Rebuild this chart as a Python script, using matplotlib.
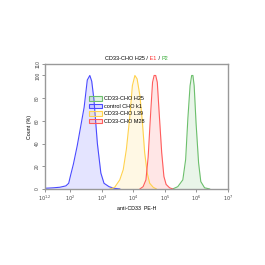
import numpy as np
import matplotlib
matplotlib.use("Agg")
import matplotlib.pyplot as plt
from matplotlib.patches import Patch
from matplotlib.ticker import FixedLocator, NullFormatter

# histogram outlines: log10(PE-H) vs count (%)
blue_x = [1.20, 1.46, 1.67, 1.86, 1.95, 2.01, 2.10, 2.22, 2.33, 2.44, 2.54, 2.62, 2.68, 2.75, 2.86, 2.97, 3.07, 3.23, 3.39, 3.57]
blue_y = [0.6, 1.0, 1.5, 2.7, 5.0, 12, 22, 38, 55, 72, 96, 100, 95, 79, 40, 14, 5.0, 2.0, 0.6, 0]
yel_x = [3.26, 3.41, 3.57, 3.68, 3.78, 3.89, 3.97, 4.05, 4.12, 4.21, 4.29, 4.36, 4.44, 4.52, 4.63, 4.73]
yel_y = [0, 1.5, 8, 17, 35, 64, 91, 100, 97, 82, 58, 32, 14, 5, 1.5, 0]
red_x = [4.21, 4.31, 4.40, 4.47, 4.55, 4.61, 4.66, 4.71, 4.76, 4.82, 4.90, 4.97, 5.04, 5.15, 5.25]
red_y = [0, 2, 8, 28, 67, 94, 100, 100, 94, 67, 32, 11, 4, 1, 0]
grn_x = [5.25, 5.41, 5.57, 5.66, 5.73, 5.80, 5.85, 5.89, 5.93, 5.99, 6.07, 6.14, 6.26, 6.42]
grn_y = [0, 2, 8, 26, 62, 91, 100, 100, 91, 58, 23, 6.5, 1, 0]

xtick_pos = [1.2, 2, 3, 4, 5, 6, 7]
xtick_lab = [r"$10^{1.2}$", r"$10^{2}$", r"$10^{3}$", r"$10^{4}$", r"$10^{5}$", r"$10^{6}$", r"$10^{7}$"]
yticks = [0, 20, 40, 60, 80, 100, 110]

series = [
    ("CD33-CHO H25", grn_x, grn_y, "#6cbf6c"),
    ("control CHO k1", blue_x, blue_y, "#4a4aff"),
    ("CD33-CHO L39", yel_x, yel_y, "#ffd24d"),
    ("CD33-CHO M28", red_x, red_y, "#ff5c5c"),
]

plt.rcParams['font.family'] = ['Liberation Sans', 'DejaVu Sans']
fig = plt.figure(figsize=(2.65, 2.65), dpi=100)
ax = fig.add_axes([0.17, 0.287, 0.69, 0.471])

handles = []
for name, xs, ys, c in series:
    x = 10 ** np.array(xs)
    ax.fill_between(x, ys, 0, color=c, alpha=0.15, lw=0)
    ax.plot(x, ys, color=c, lw=0.8)
    handles.append(Patch(facecolor=c + "33", edgecolor=c, lw=0.8, label=name))

ax.set_xscale("log")
ax.set_xlim(10 ** 1.2, 10 ** 7)
ax.set_ylim(0, 110)
ax.xaxis.set_major_locator(FixedLocator([10 ** p for p in xtick_pos]))
ax.set_xticklabels(xtick_lab, fontsize=3.5)
ax.xaxis.set_minor_formatter(NullFormatter())
ax.set_yticks(yticks)
ax.set_yticklabels([str(v) for v in yticks], fontsize=3.5, rotation=90, va="center")
ax.tick_params(length=2, width=0.4, pad=1.5, colors="#444444")
ax.tick_params(which="minor", length=1.2, width=0.3)
for s in ax.spines.values():
    s.set_color("#999999")
    s.set_linewidth(1.0)
ax.set_xlabel("anti-CD33  PE-H", fontsize=3.8, labelpad=2)
ax.set_ylabel("Count (%)", fontsize=3.8, labelpad=2)

leg = ax.legend(handles=handles, loc="upper left", bbox_to_anchor=(0.23, 0.76), frameon=False,
                fontsize=4, handlelength=2.2, handleheight=0.8, handletextpad=0.5, labelspacing=0.45,
                borderaxespad=0)

# title with coloured pieces
t1 = ax.text(0.565, 1.025, "CD33-CHO H25 /", transform=ax.transAxes, fontsize=4, ha="right", va="bottom")
t2 = ax.annotate(" E1", xycoords=t1, xy=(1, 0), va="bottom", fontsize=4, color="#ff3333")
t3 = ax.annotate(" / ", xycoords=t2, xy=(1, 0), va="bottom", fontsize=4)
ax.annotate("P2", xycoords=t3, xy=(1, 0), va="bottom", fontsize=4, color="#33aa33")

fig.savefig("out.png", dpi=100)
